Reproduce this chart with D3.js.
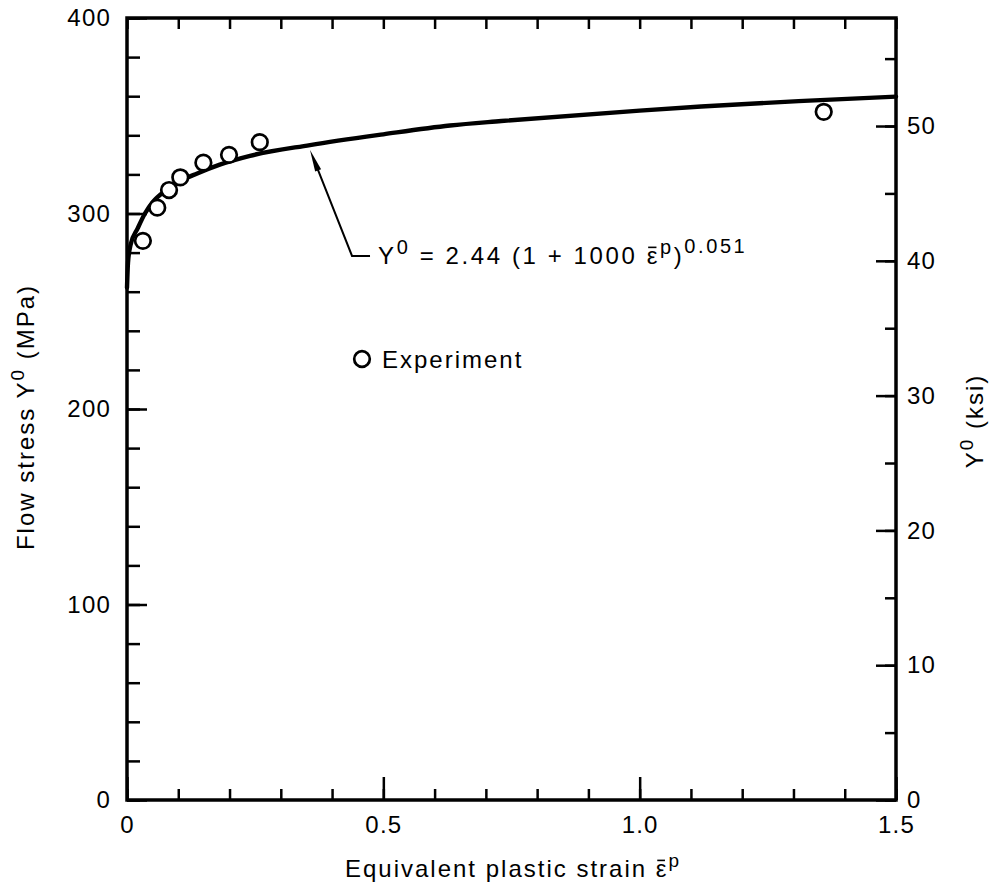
<!DOCTYPE html>
<html>
<head>
<meta charset="utf-8">
<script src="https://cdn.jsdelivr.net/npm/d3@7"></script>
<style>
  html, body { margin: 0; padding: 0; background: #fff; }
  svg { display: block; }
  text { font-family: "Liberation Sans", Arial, Helvetica, sans-serif; fill: #000; }
</style>
</head>
<body>
<svg id="chart" width="990" height="887"></svg>
<script>
// ---- data ----
const curveStrain = [0, 0.002, 0.007, 0.021, 0.035, 0.051, 0.074, 0.103, 0.137, 0.181, 0.24, 0.357, 0.5, 0.63, 0.73, 1.0, 1.12, 1.31, 1.5];
const curveStress = [262, 275, 284, 292.5, 300, 306, 311.5, 316.5, 320.5, 325, 329.5, 335, 340.5, 345, 347.3, 352.6, 354.7, 357.5, 359.8];
const expStrain = [0.031, 0.059, 0.082, 0.104, 0.149, 0.199, 0.259, 1.359];
const expStress = [286, 303, 312, 318.5, 326, 330, 336.5, 352];
const xMajorTicks = [0, 0.5, 1.0, 1.5];
const xMajorLabels = ["0", "0.5", "1.0", "1.5"];
const yMajorTicks = [0, 100, 200, 300, 400];
const ksiMajorTicks = [0, 10, 20, 30, 40, 50];
const MPA_PER_KSI = 6.895;

// ---- layout ----
const L = 127, R = 896, T = 18, B = 800;
const svg = d3.select("#chart");
const x = d3.scaleLinear().domain([0, 1.5]).range([L, R]);
const y = d3.scaleLinear().domain([0, 400]).range([B, T]);
const yk = d3.scaleLinear().domain([0, 400 / MPA_PER_KSI]).range([B, T]);

const FS = 24, SUP = 19, LS = "2px";
function styleAxis(g) {
  g.select(".domain").remove();
  g.selectAll(".tick line").attr("stroke", "#000").attr("stroke-width", 2.5);
  g.selectAll(".tick text").attr("font-size", FS).attr("letter-spacing", "1.2px")
    .attr("font-family", '"Liberation Sans", Arial, sans-serif').attr("fill", "#000");
}

// left axis (MPa)
svg.append("g").attr("transform", `translate(${L},0)`)
  .call(d3.axisLeft(y).tickValues(d3.range(0, 401, 20)).tickSize(-13).tickFormat(""))
  .call(styleAxis);
svg.append("g").attr("transform", `translate(${L},0)`)
  .call(d3.axisLeft(y).tickValues(yMajorTicks).tickSize(-20).tickPadding(16).tickFormat(d3.format("d")))
  .call(styleAxis);

// right axis (ksi)
svg.append("g").attr("transform", `translate(${R},0)`)
  .call(d3.axisRight(yk).tickValues(d3.range(0, 56, 5)).tickSize(-11).tickFormat(""))
  .call(styleAxis);
svg.append("g").attr("transform", `translate(${R},0)`)
  .call(d3.axisRight(yk).tickValues(ksiMajorTicks).tickSize(-20).tickPadding(11).tickFormat(d3.format("d")))
  .call(styleAxis);

// bottom axis
svg.append("g").attr("transform", `translate(0,${B})`)
  .call(d3.axisBottom(x).tickValues(d3.range(0, 1.501, 0.1)).tickSize(-11).tickFormat(""))
  .call(styleAxis);
svg.append("g").attr("transform", `translate(0,${B})`)
  .call(d3.axisBottom(x).tickValues(xMajorTicks).tickSize(-23).tickPadding(16).tickFormat((d, i) => xMajorLabels[i]))
  .call(styleAxis);

// top axis
svg.append("g").attr("transform", `translate(0,${T})`)
  .call(d3.axisTop(x).tickValues(d3.range(0, 1.501, 0.1)).tickSize(-11).tickFormat(""))
  .call(styleAxis);

// frame
svg.append("rect").attr("x", L).attr("y", T).attr("width", R - L).attr("height", B - T)
  .attr("fill", "none").attr("stroke", "#000").attr("stroke-width", 3.5);

// curve
const curvePts = curveStrain.map((s, i) => [s, curveStress[i]]);
svg.append("path").datum(curvePts)
  .attr("d", d3.line().x(d => x(d[0])).y(d => y(d[1])).curve(d3.curveMonotoneX))
  .attr("fill", "none").attr("stroke", "#000").attr("stroke-width", 4.4).attr("stroke-linecap", "round");

// experimental points
svg.append("g").selectAll("circle").data(expStrain.map((s, i) => [s, expStress[i]]))
  .join("circle")
  .attr("cx", d => x(d[0])).attr("cy", d => y(d[1])).attr("r", 7.8)
  .attr("fill", "#fff").attr("stroke", "#000").attr("stroke-width", 2.7);

// annotation arrow
const tipX = x(0.357), tipY = y(332.5);
const elbowX = tipX + 42, elbowY = tipY + 106;
svg.append("path")
  .attr("d", `M${elbowX + 18},${elbowY} L${elbowX},${elbowY} L${tipX + 4},${tipY + 10}`)
  .attr("fill", "none").attr("stroke", "#000").attr("stroke-width", 2);
{
  const ang = Math.atan2(tipY - elbowY, tipX - elbowX);
  const len = 22, half = 3.2;
  const bx = tipX - len * Math.cos(ang), by = tipY - len * Math.sin(ang);
  const px = -Math.sin(ang) * half, py = Math.cos(ang) * half;
  svg.append("path")
    .attr("d", `M${tipX},${tipY} L${bx + px},${by + py} L${bx - px},${by - py} Z`)
    .attr("fill", "#000");
}

// overbar over a character (measured from the rendered text)
function addMacron(textSel, charIndex) {
  const node = textSel.node();
  const ext = node.getExtentOfChar(charIndex);
  const x0 = ext.x + 1.5, x1 = ext.x + ext.width - 3.5;
  const yy = ext.y + ext.height * 0.2;
  svg.append("line").attr("x1", x0).attr("x2", x1).attr("y1", yy).attr("y2", yy)
    .attr("stroke", "#000").attr("stroke-width", 1.6);
}

// equation text
const eq = svg.append("text").attr("x", elbowX + 26).attr("y", elbowY + 8)
  .attr("font-size", FS).attr("letter-spacing", "2.6px");
eq.append("tspan").text("Y");
eq.append("tspan").attr("font-size", 20).attr("dy", -10).text("0");
const eqMid = " = 2.44 (1 + 1000 ";
eq.append("tspan").attr("dy", 10).text(eqMid);
eq.append("tspan").text("\u03B5");
eq.append("tspan").attr("font-size", 20).attr("dy", -10).text("p");
eq.append("tspan").attr("dy", 10).text(")");
eq.append("tspan").attr("font-size", 20).attr("dy", -11).text("0.051");
addMacron(eq, 2 + eqMid.length);

// legend
svg.append("circle").attr("cx", 362).attr("cy", 359).attr("r", 7.8)
  .attr("fill", "#fff").attr("stroke", "#000").attr("stroke-width", 2.7);
svg.append("text").attr("x", 382).attr("y", 368).attr("font-size", FS)
  .attr("letter-spacing", LS).text("Experiment");

// axis titles
const xTitle = "Equivalent plastic strain ";
const xt = svg.append("text").attr("x", 513).attr("y", 877).attr("text-anchor", "middle")
  .attr("font-size", FS).attr("letter-spacing", LS);
xt.append("tspan").text(xTitle);
xt.append("tspan").text("\u03B5");
xt.append("tspan").attr("font-size", SUP).attr("dy", -10).text("p");
addMacron(xt, xTitle.length);

const lt = svg.append("text").attr("transform", "translate(34,417) rotate(-90)")
  .attr("text-anchor", "middle").attr("font-size", FS).attr("letter-spacing", LS);
lt.append("tspan").text("Flow stress Y");
lt.append("tspan").attr("font-size", SUP).attr("dy", -10).text("0");
lt.append("tspan").attr("dy", 10).text(" (MPa)");

const rt = svg.append("text").attr("transform", "translate(983,421) rotate(-90)")
  .attr("text-anchor", "middle").attr("font-size", FS).attr("letter-spacing", LS);
rt.append("tspan").text("Y");
rt.append("tspan").attr("font-size", SUP).attr("dy", -10).text("0");
rt.append("tspan").attr("dy", 10).text(" (ksi)");
</script>
</body>
</html>
